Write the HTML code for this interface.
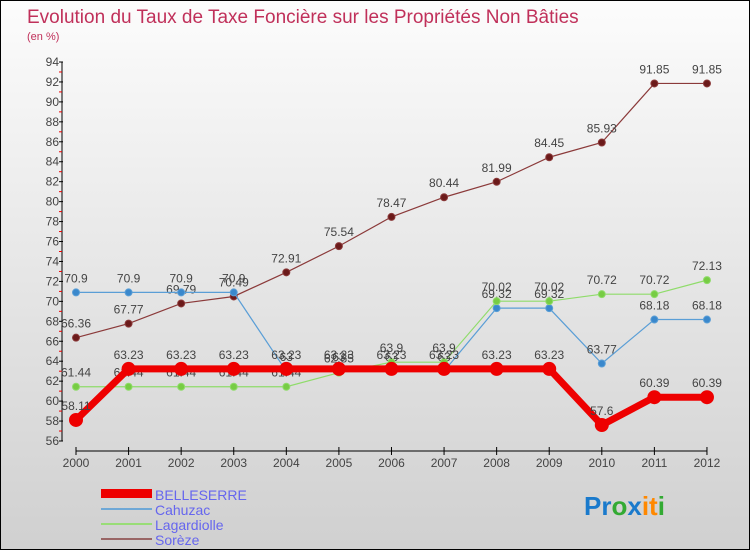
<!DOCTYPE html>
<html><head><meta charset="utf-8"><style>
body{margin:0}
#c{width:748px;height:548px;border:1px solid #000;background:linear-gradient(#fcfcfc,#d0d0d0);position:relative;font-family:"Liberation Sans",sans-serif;overflow:hidden}
</style></head><body>
<div id="c">
<svg id="s" width="748" height="548" style="position:absolute;left:0;top:0" font-family="Liberation Sans, sans-serif">
<text x="26" y="22" font-size="19" fill="#c0305a">Evolution du Taux de Taxe Foncière sur les Propriétés Non Bâties</text>
<text x="26" y="39" font-size="11" fill="#c0305a">(en %)</text>
<g id="axes"></g><g id="series"></g>
<g>
<rect x="100" y="488" width="51" height="9" fill="#e00"/>
<text x="154" y="499" font-size="14" fill="#6666ee">BELLESERRE</text>
<rect x="100" y="507" width="51" height="2" fill="#6fa8d6"/>
<text x="154" y="514" font-size="14" fill="#6666ee">Cahuzac</text>
<rect x="100" y="522" width="51" height="2" fill="#99dd77"/>
<text x="154" y="529" font-size="14" fill="#6666ee">Lagardiolle</text>
<rect x="100" y="537" width="51" height="2" fill="#996666"/>
<text x="154" y="544" font-size="14" fill="#6666ee">Sorèze</text>
</g>
<text x="583" y="514" font-size="26" font-weight="bold"><tspan fill="#1a7acc">Pr</tspan><tspan fill="#33aa33">o</tspan><tspan fill="#1a7acc">x</tspan><tspan fill="#ff8800">it</tspan><tspan fill="#33aa33">i</tspan></text>
</svg></div>
<script>
const years=["2000","2001","2002","2003","2004","2005","2006","2007","2008","2009","2010","2011","2012"];
const belleserre=[58.11,63.23,63.23,63.23,63.23,63.23,63.23,63.23,63.23,63.23,57.6,60.39,60.39];
const cahuzac=[70.9,70.9,70.9,70.9,63,63,63,63,69.32,69.32,63.77,68.18,68.18];
const lagardiolle=[61.44,61.44,61.44,61.44,61.44,62.85,63.9,63.9,70.02,70.02,70.72,70.72,72.13];
const soreze=[66.36,67.77,69.79,70.49,72.91,75.54,78.47,80.44,81.99,84.45,85.93,91.85,91.85];
const yTicks=[56,58,60,62,64,66,68,70,72,74,76,78,80,82,84,86,88,90,92,94];
const NS="http://www.w3.org/2000/svg";
const X=i=>75+i*52.58, Y=v=>440-(v-56)*(379/38);
function mk(t,a,p){const e=document.createElementNS(NS,t);for(const k in a)e.setAttribute(k,a[k]);p.appendChild(e);return e;}
const ax=document.getElementById('axes');
let l=mk('line',{x1:61,y1:Y(94),x2:61,y2:Y(56),stroke:'#000'},ax);


yTicks.forEach(v=>{
 mk('line',{x1:58,y1:Y(v),x2:62,y2:Y(v),stroke:'#000'},ax);
 if(v<94) mk('line',{x1:58,y1:Y(v+1),x2:61,y2:Y(v+1),stroke:'#e00'},ax);
 const t=mk('text',{x:58,y:Y(v)+4,'font-size':12,'text-anchor':'end',fill:'#444'},ax);t.textContent=v;
 
 
});
l=mk('line',{x1:75,y1:450,x2:X(12),y2:450,stroke:'#000'},ax);


years.forEach((y,i)=>{
 mk('line',{x1:X(i),y1:446,x2:X(i),y2:454,stroke:'#000'},ax);
 const t=mk('text',{x:X(i),y:466,'font-size':12,'text-anchor':'middle',fill:'#444'},ax);t.textContent=y;
 
 
});
const sg=document.getElementById('series');
function draw(name,d,col,dot,w,r){
 const g=mk('g',{},sg);
 
 
 const p=mk('polyline',{points:d.map((v,i)=>X(i)+','+Y(v)).join(' '),fill:'none',stroke:col,'stroke-width':w},g);
 
 
 d.forEach((v,i)=>{
  const c=mk('circle',{cx:X(i),cy:Y(v),r:r,fill:dot,stroke:col,'stroke-width':1},g);
  
  
  const t=mk('text',{x:X(i),y:Y(v)-10,'font-size':12,'text-anchor':'middle',fill:'#444'},g);t.textContent=v;
  
  
 });
}
draw('soreze',soreze,'#8b3a3a','#6b1a1a',1.2,3.5);
draw('cahuzac',cahuzac,'#5a9ed6','#3a88cc',1.2,3.5);
draw('lagardiolle',lagardiolle,'#8fdc6a','#77cc44',1.2,3.5);
draw('belleserre',belleserre,'#ee0000','#ee0000',7,6.5);
</script>
</body></html>
